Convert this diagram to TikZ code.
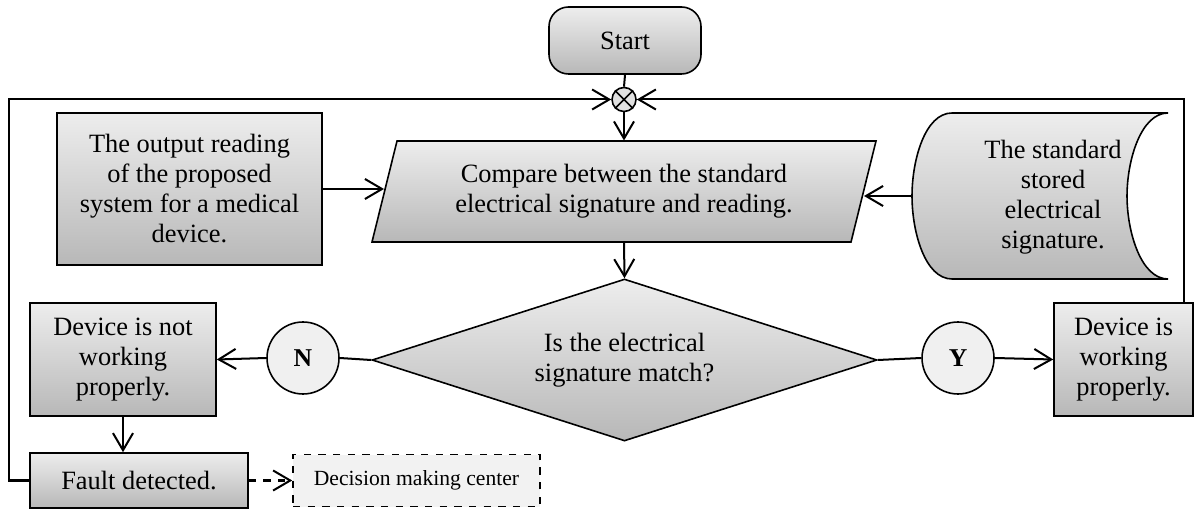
\documentclass[tikz,border=0pt]{standalone}
\usepackage{fontspec}
\setmainfont{Liberation Serif}
\usetikzlibrary{shapes.geometric,arrows.meta}
\def\pxlen{0.409pt}

\tikzset{
	>={Straight Barb[length=7pt,width=8.2pt]},
	txt/.style={font=\rmfamily\fontsize{10.8}{12.27}\selectfont, align=center},
	box/.style={txt, draw, line width=0.65pt, top color=black!7, bottom color=black!28, inner sep=0pt},
	bubble/.style={circle, draw, line width=0.65pt, fill=black!6, minimum size=72*\pxlen, inner sep=0pt, font=\rmfamily\fontsize{10.5}{12}\selectfont\bfseries},
	wire/.style={line width=0.82pt},
	link/.style={line width=0.82pt, ->}
}

\begin{document}
\begin{tikzpicture}[x=\pxlen, y=-\pxlen]
			\useasboundingbox (0,0) rectangle (1195,512);
			%%%%% START %%%%%
			
			\node[box, rounded corners=8pt, minimum width=152*\pxlen, minimum height=67*\pxlen] (start) at (625,40.5) {Start};
			\node[circle, draw, line width=0.65pt, fill=black!12, minimum size=24*\pxlen, inner sep=0pt] (mix) at (624,99.5) {};
			\draw[line width=0.65pt] (mix.north west) -- (mix.south east) (mix.north east) -- (mix.south west);
			
			\node[box, minimum width=265*\pxlen, minimum height=152*\pxlen] (reading) at (189.5,189) {The output reading\\of the proposed\\system for a medical\\device.};
			
			% parallelogram
			\path[draw, line width=0.65pt, top color=black!7, bottom color=black!28] (397,141) -- (876,141) -- (851,242) -- (372,242) -- cycle;
			\node[txt, minimum width=479*\pxlen, minimum height=101*\pxlen, inner sep=0pt] (compare) at (624,191.5) {Compare between the standard\\electrical signature and reading.};
			
			% stored data symbol
			\path[draw, line width=0.65pt, top color=black!7, bottom color=black!28] (1168,113) -- (952,113) .. controls (925,113) and (912,160) .. (912,196) .. controls (912,232) and (925,279) .. (952,279) -- (1168,279) .. controls (1141,279) and (1127,232) .. (1127,196) .. controls (1127,160) and (1141,113) .. (1168,113) -- cycle;
			\node[txt] (stored) at (1053,197) {The standard\\stored\\electrical\\signature.};
			\coordinate (storein) at (912,196);
			
			\node[box, diamond, aspect=3.1, minimum width=505*\pxlen, minimum height=162*\pxlen] (match) at (624.5,360) {Is the electrical\\signature match?};
			\node[bubble] (no) at (303,358) {N};
			\node[bubble] (yes) at (958,358) {Y};
			
			\node[box, minimum width=186*\pxlen, minimum height=113*\pxlen] (notok) at (123,359.5) {Device is not\\working\\properly.};
			\node[box, minimum width=139*\pxlen, minimum height=113*\pxlen] (ok) at (1123.5,359.5) {Device is\\working\\properly.};
			\node[box, minimum width=218*\pxlen, minimum height=55*\pxlen] (fault) at (139,480.5) {Fault detected.};
			\node[draw, dashed, line width=0.65pt, fill=black!5, minimum width=247*\pxlen, minimum height=52*\pxlen, font=\rmfamily\fontsize{8.84}{10}\selectfont] (decide) at (416.5,480.5) {Decision making center};
			
			% connectors
			\draw[wire] (start.south) -- (mix.north);
			\draw[link] (mix.south) -- (compare.north);
			\draw[link] (reading.east) -- (reading.east -| compare.west);
			\draw[link] (storein) -- (storein -| compare.east);
			\draw[link] (compare.south) -- (match.north);
			\draw[wire] (match.west) -- (no.east);
			\draw[link] (no.west) -- (notok.east);
			\draw[wire] (match.east) -- (yes.west);
			\draw[link] (yes.east) -- (ok.west);
			\draw[link] (notok.south) -- (notok.south |- fault.north);
			\draw[link] (fault.west) -- ++(-20,0) |- (mix.west);
			\draw[link] ([xshift=-10*\pxlen]ok.north east) |- (mix.east);
			\draw[link, dashed] (fault.east) -- (decide.west);
			
			%%%%% END %%%%%
\end{tikzpicture}
\end{document}
